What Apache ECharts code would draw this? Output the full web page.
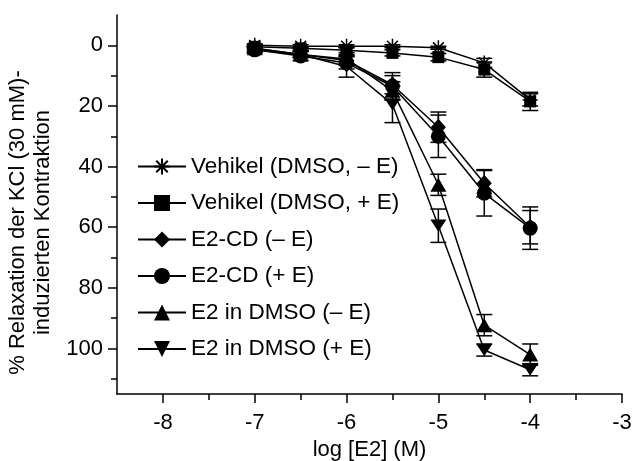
<!DOCTYPE html>
<html>
<head>
<meta charset="utf-8">
<script src="https://cdn.jsdelivr.net/npm/echarts@6/dist/echarts.min.js"></script>
<style>
  html, body { margin: 0; padding: 0; background: #fff; }
  #chart { width: 633px; height: 461px; }
</style>
</head>
<body>
<div id="chart"></div>
<script>
// log molar E2 concentrations
const logConc = [-7, -6.5, -6, -5.5, -5, -4.5, -4];

const seriesNames = [
  'Vehikel (DMSO, \u2013 E)',
  'Vehikel (DMSO, + E)',
  'E2-CD (\u2013 E)',
  'E2-CD (+ E)',
  'E2 in DMSO (\u2013 E)',
  'E2 in DMSO (+ E)'
];

// mean % relaxation and SEM per group
const vehikelMinusE     = [0, 0.3, 0.3, 0.3, 0.8, 5.8, 18];
const vehikelMinusEErr  = [0.5, 0.5, 0.5, 0.5, 0.5, 1.5, 2];
const vehikelPlusE      = [0.5, 1, 1.6, 2.5, 3.9, 8, 18.5];
const vehikelPlusEErr   = [0.5, 0.5, 0.8, 1, 1.2, 2.5, 3];
const e2cdMinusE        = [1, 3, 5, 13, 27, 45.5, 60];
const e2cdMinusEErr     = [1, 1, 1.5, 3, 5, 4.5, 5.5];
const e2cdPlusE         = [1.5, 3.5, 5.8, 13.5, 30, 48.8, 60.3];
const e2cdPlusEErr      = [1, 1.5, 2, 4.5, 7, 7.5, 7];
const e2dmsoMinusE      = [1, 3, 4.5, 15, 46, 92.3, 102];
const e2dmsoMinusEErr   = [0.5, 1, 1.5, 3, 3.5, 3.5, 3.5];
const e2dmsoPlusE       = [1.5, 3, 7, 19.5, 59.5, 100.5, 107];
const e2dmsoPlusEErr    = [1, 1, 3.5, 6, 5.5, 2, 2];

// axis ticks
const xMajorTicks = [-8, -7, -6, -5, -4, -3];
const xMinorTicks = [-7.5, -6.5, -5.5, -4.5, -3.5];
const yMajorTicks = [0, 20, 40, 60, 80, 100];
const yMinorTicks = [10, 30, 50, 70, 90, 110];

const groups = [
  { name: seriesNames[0], mean: vehikelMinusE, err: vehikelMinusEErr,
    symbol: 'path://M0,-1L0,1M-1,0L1,0M-0.72,-0.72L0.72,0.72M-0.72,0.72L0.72,-0.72', size: 15 },
  { name: seriesNames[1], mean: vehikelPlusE, err: vehikelPlusEErr, symbol: 'rect', size: 12 },
  { name: seriesNames[2], mean: e2cdMinusE, err: e2cdMinusEErr, symbol: 'diamond', size: [15, 17] },
  { name: seriesNames[3], mean: e2cdPlusE, err: e2cdPlusEErr, symbol: 'circle', size: 15 },
  { name: seriesNames[4], mean: e2dmsoMinusE, err: e2dmsoMinusEErr, symbol: 'triangle', size: [16, 14] },
  { name: seriesNames[5], mean: e2dmsoPlusE, err: e2dmsoPlusEErr, symbol: 'path://M0,0L2,0L1,1.75Z', size: [16, 14] }
];

const FONT = 'Liberation Sans, Arial, sans-serif';
const INK = '#000';

function errorBar(params, api) {
  const x = api.value(0), y = api.value(1), e = api.value(2);
  const hi = api.coord([x, y - e]);
  const lo = api.coord([x, y + e]);
  const half = 8;
  const style = { stroke: INK, lineWidth: 1.5, fill: null };
  return {
    type: 'group',
    children: [
      { type: 'line', shape: { x1: hi[0], y1: hi[1], x2: lo[0], y2: lo[1] }, style: style },
      { type: 'line', shape: { x1: hi[0] - half, y1: hi[1], x2: hi[0] + half, y2: hi[1] }, style: style },
      { type: 'line', shape: { x1: lo[0] - half, y1: lo[1], x2: lo[0] + half, y2: lo[1] }, style: style }
    ]
  };
}

const series = [];
groups.forEach(function (g, i) {
  series.push({
    name: g.name + ' SEM',
    type: 'custom',
    xAxisIndex: 0,
    yAxisIndex: 0,
    renderItem: errorBar,
    encode: { x: 0, y: 1 },
    data: logConc.map(function (c, k) { return [c, g.mean[k], g.err[k]]; }),
    z: 2
  });
  series.push({
    name: g.name,
    type: 'line',
    xAxisIndex: 0,
    yAxisIndex: 0,
    data: logConc.map(function (c, k) { return [c, g.mean[k]]; }),
    symbol: g.symbol,
    symbolSize: g.size,
    symbolKeepAspect: true,
    showAllSymbol: true,
    lineStyle: { color: INK, width: 1.5 },
    itemStyle: i === 0
      ? { color: INK, borderColor: INK, borderWidth: 1.5 }
      : { color: INK, borderWidth: 0 },
    emphasis: { disabled: true },
    z: 3
  });
});

const axisLineStyle = { color: INK, width: 1.5 };

const option = {
  backgroundColor: '#fff',
  animation: false,
  grid: { left: 117, right: 11, top: 15, bottom: 67, containLabel: false, outerBoundsMode: 'none' },
  legend: {
    orient: 'vertical',
    left: 137,
    top: 155,
    padding: 0,
    itemWidth: 48,
    itemHeight: 20,
    itemGap: 13.5,
    selectedMode: false,
    data: seriesNames,
    textStyle: { fontFamily: FONT, fontSize: 22.5, lineHeight: 23, color: INK }
  },
  xAxis: [
    {
      type: 'value',
      min: -8.5,
      max: -3,
      position: 'bottom',
      name: 'log [E2] (M)',
      nameLocation: 'middle',
      nameGap: 45,
      nameTextStyle: { fontFamily: FONT, fontSize: 22, color: INK },
      axisLine: { show: true, onZero: false, lineStyle: axisLineStyle },
      axisTick: { show: true, length: 9, customValues: xMajorTicks, lineStyle: axisLineStyle },
      axisLabel: { customValues: xMajorTicks, margin: 18, fontFamily: FONT, fontSize: 22, color: INK },
      splitLine: { show: false }
    },
    {
      type: 'value',
      min: -8.5,
      max: -3,
      position: 'bottom',
      axisLine: { show: false, onZero: false },
      axisTick: { show: true, length: 6, customValues: xMinorTicks, lineStyle: axisLineStyle },
      axisLabel: { show: false },
      splitLine: { show: false }
    }
  ],
  yAxis: [
    {
      type: 'value',
      min: -10,
      max: 115,
      inverse: true,
      position: 'left',
      name: '% Relaxation der KCl (30 mM)-\ninduzierten Kontraktion',
      nameLocation: 'middle',
      nameRotate: 90,
      nameGap: 53,
      nameTextStyle: { fontFamily: FONT, fontSize: 22, lineHeight: 25, color: INK, padding: [0, 36, 0, 0] },
      axisLine: { show: true, onZero: false, lineStyle: axisLineStyle },
      axisTick: { show: true, length: 9, customValues: yMajorTicks, lineStyle: axisLineStyle },
      axisLabel: { customValues: yMajorTicks, margin: 14, fontFamily: FONT, fontSize: 22, color: INK },
      splitLine: { show: false }
    },
    {
      type: 'value',
      min: -10,
      max: 115,
      inverse: true,
      position: 'left',
      axisLine: { show: false, onZero: false },
      axisTick: { show: true, length: 6, customValues: yMinorTicks, lineStyle: axisLineStyle },
      axisLabel: { show: false },
      splitLine: { show: false }
    }
  ],
  series: series
};

const chart = echarts.init(document.getElementById('chart'), null, { renderer: 'canvas' });
chart.setOption(option);
</script>
</body>
</html>
